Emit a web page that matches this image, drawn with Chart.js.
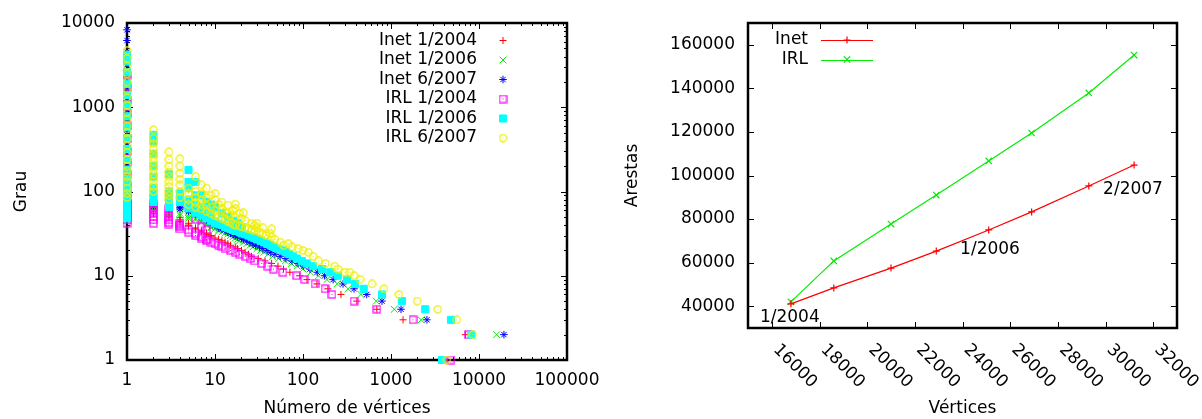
<!DOCTYPE html>
<html>
<head>
<meta charset="utf-8">
<script src="https://cdn.jsdelivr.net/npm/chart.js@4.4.1/dist/chart.umd.min.js"></script>
<style>
  html, body { margin: 0; padding: 0; background: #fff; }
  #wrap { position: relative; width: 1202px; height: 419px; }
  canvas { position: absolute; top: 0; }
  #grau { left: 0; }
  #arestas { left: 600px; }
</style>
</head>
<body>
<div id="wrap">
  <canvas id="grau" width="600" height="419"></canvas>
  <canvas id="arestas" width="602" height="419"></canvas>
</div>
<script>
// ---- painel esquerdo: [número de vértices, grau] ----
const inet2004 = [
  [1,60],[1,75],[1,90],[1,110],[1,140],[1,180],[1,230],[1,300],[1,400],[1,520],[1,700],[1,950],[1,1300],[1,1800],[1,2400],
  [2,55],[2,58],[2,62],[2,66],[2,72],[3,50],[3,53],[3,57],[4,44],[4,46],[4,49],[5,39],[5,40],[5,42],
  [6,36],[6,37],[7,33],[7,34],[8,31],[8,32],[9,29],[9,30],[10,28],
  [11,27],[12,26],[13,25],[14,24],[15,23],[17,22],[18,21],[20,20],[22,19],[24,18],[26,17],[31,16],[37,15],[44,14],
  [52,13],[60,12],[71,11],[92,10],[111,9],[144,8],[192,7],[270,6],[410,5],[690,4],[1370,3],[7000,2]
];
const inet2006 = [
  [1,65],[1,80],[1,100],[1,130],[1,170],[1,220],[1,290],[1,380],[1,500],[1,680],[1,900],[1,1200],[1,1700],[1,2300],[1,3200],
  [2,60],[2,64],[2,70],[3,55],[3,58],[3,62],[4,52],[4,55],[5,48],[5,50],[5,53],[6,46],[6,48],[7,43],[7,44],[8,40],[8,41],[9,37],[9,38],
  [10,36],[11,34],[11,35],[12,33],[13,32],[14,31],[15,30],[16,29],[17,28],[18,27],[19,26],[21,25],[23,24],[25,23],[27,22],
  [30,21],[33,20],[36,19],[40,18],[45,17],[53,16],[63,15],[74,14],[86,13],[100,12],[122,11],[150,10],[187,9],[245,8],
  [325,7],[455,6],[680,5],[1090,4],[2200,3],[15900,2]
];
const inet2007 = [
  [1,70],[1,90],[1,115],[1,150],[1,200],[1,260],[1,350],[1,470],[1,640],[1,870],[1,1200],[1,1650],[1,2300],[1,3200],[1,4500],[1,6200],[1,8300],
  [2,66],[2,72],[3,62],[3,66],[4,62],[4,65],[4,68],[5,58],[5,60],[5,63],[6,54],[6,56],[7,50],[7,52],[8,46],[8,48],[9,43],[9,44],
  [10,40],[10,41],[11,37],[12,36],[13,35],[14,33],[15,32],[16,31],[17,30],[18,29],[20,28],[21,27],[23,26],[25,25],[27,24],
  [29,23],[32,22],[35,21],[39,20],[43,19],[48,18],[55,17],[64,16],[75,15],[88,14],[102,13],[120,12],[145,11],[176,10],
  [220,9],[285,8],[380,7],[530,6],[790,5],[1300,4],[2560,3],[19200,2]
];
const irl2004 = [
  [1,42],[1,46],[1,50],[1,55],[1,60],[1,66],[1,72],[1,80],[1,95],[1,120],[1,160],[1,220],[1,300],[1,420],[1,600],[1,850],[1,1200],[1,1700],[1,2400],
  [2,42],[2,46],[2,50],[2,55],[2,60],[2,66],[2,72],[3,41],[3,43],[3,46],[3,50],[3,55],[3,62],
  [4,36],[4,38],[4,40],[4,42],[5,33],[5,35],[6,30],[6,32],[6,47],[7,28],[7,29],[7,38],[8,26],[8,27],[8,35],[9,25],
  [10,24],[11,23],[12,22],[13,21],[15,20],[17,19],[19,18],[22,17],[25,16],[28,15],[34,14],[40,13],[46,12],[59,11],
  [85,10],[105,9],[137,8],[178,7],[213,6],[380,5],[690,4],[1780,3],[7500,2],[4800,1]
];
const irl2006 = [
  [1,48],[1,55],[1,62],[1,70],[1,80],[1,95],[1,115],[1,140],[1,180],[1,240],[1,320],[1,430],[1,580],[1,780],[1,1050],[1,1400],[1,1900],[1,2600],[1,3500],[1,4200],
  [2,75],[2,85],[2,95],[2,110],[2,150],[2,200],[2,280],[2,390],[2,470],[3,65],[3,70],[3,75],[3,85],[3,100],[3,160],
  [4,75],[4,85],[4,95],[5,63],[5,70],[5,80],[5,110],[5,130],[5,180],[6,56],[6,60],[6,70],[6,90],[6,130],
  [7,52],[7,55],[7,65],[7,90],[8,48],[8,50],[8,60],[8,75],[9,45],[9,47],[9,55],[9,70],[10,42],[10,44],[10,65],
  [11,41],[12,40],[12,55],[13,38],[14,37],[14,50],[15,36],[15,38],[16,35],[16,45],[17,34],[18,42],[19,33],[20,32],[20,38],
  [22,31],[24,30],[26,29],[28,28],[30,27],[33,26],[36,25],[39,24],[43,23],[47,22],[52,21],[59,20],[64,19],[70,18],
  [77,17],[85,16],[97,15],[110,14],[130,13],[165,12],[204,11],[250,10],[316,9],[390,8],[490,7],[790,6],[1330,5],
  [2450,4],[4800,3],[8200,2],[3800,1]
];
const irl2007 = [
  [1,85],[1,95],[1,110],[1,130],[1,150],[1,175],[1,200],[1,240],[1,290],[1,350],[1,420],[1,500],[1,600],[1,720],[1,870],[1,1050],[1,1300],[1,1600],[1,2000],[1,2500],[1,3100],[1,3800],[1,4700],
  [2,100],[2,115],[2,130],[2,145],[2,160],[2,180],[2,200],[2,225],[2,250],[2,280],[2,320],[2,370],[2,430],[2,540],
  [3,80],[3,90],[3,100],[3,115],[3,130],[3,150],[3,170],[3,200],[3,240],[3,295],
  [4,85],[4,100],[4,120],[4,140],[4,165],[4,200],[4,245],[5,70],[5,80],[5,95],[5,110],
  [6,65],[6,75],[6,85],[6,100],[6,150],[7,62],[7,70],[7,80],[7,95],[7,120],[8,58],[8,68],[8,85],[8,110],
  [9,55],[9,65],[9,90],[10,52],[10,60],[10,80],[10,95],
  [11,50],[11,70],[12,48],[12,62],[12,75],[13,46],[13,58],[14,44],[14,55],[14,69],[15,43],[15,52],[16,41],[16,60],
  [17,40],[17,50],[17,63],[17,71],[19,39],[19,55],[20,38],[20,48],[21,56],[22,37],[22,45],[24,36],[26,35],[26,42],
  [28,34],[28,40],[30,37],[30,42],[32,33],[35,32],[35,37],[38,30],[42,32],[44,29],[44,36],[48,27],[55,25],[60,23],
  [68,24],[75,22],[88,21],[100,20],[115,19],[130,17],[150,15],[180,14],[230,13],[250,12],[300,11],[340,11],[380,10],
  [445,9],[610,8],[830,7],[1230,6],[1980,5],[3400,4],[5600,3],[8500,2],[4300,1]
];
const seriesLabels = ['Inet 1/2004', 'Inet 1/2006', 'Inet 6/2007', 'IRL 1/2004', 'IRL 1/2006', 'IRL 6/2007'];
const verticesTicks = [1, 10, 100, 1000, 10000, 100000];
const grauTicks = [1, 10, 100, 1000, 10000];

// ---- painel direito: arestas x vértices ----
const vertices = [16800, 18600, 21000, 22900, 25100, 26900, 29300, 31200];
const arestasInet = [41100, 48400, 57500, 65300, 75000, 83300, 95200, 104800];
const arestasIRL = [42000, 60800, 77700, 91000, 106700, 119500, 137900, 155300];
const snapshotLabels = [
  { text: '1/2004', x: 15500, y: 35000 },
  { text: '1/2006', x: 23900, y: 65800 },
  { text: '2/2007', x: 29900, y: 93600 }
];
const vertTicks = [16000, 18000, 20000, 22000, 24000, 26000, 28000, 30000, 32000];
const arestasTicks = [40000, 60000, 80000, 100000, 120000, 140000, 160000];

const FONT = { family: 'DejaVu Sans', size: 17 };
Chart.defaults.font.family = FONT.family;
Chart.defaults.font.size = FONT.size;
Chart.defaults.color = '#000';

// gnuplot style open markers with a center dot
function openMarker(color, shape) {
  const c = document.createElement('canvas');
  c.width = 9; c.height = 9;
  const g = c.getContext('2d');
  g.strokeStyle = color; g.fillStyle = color; g.lineWidth = 1.2;
  if (shape === 'square') {
    g.strokeRect(1, 1, 7, 7);
  } else {
    g.beginPath(); g.arc(4.5, 4.5, 3.6, 0, Math.PI * 2); g.stroke();
  }
  g.fillRect(4, 4, 1, 1);
  return c;
}

const styles = [
  { color: '#ff0000', pointStyle: 'cross', radius: 3.5 },
  { color: '#00ee00', pointStyle: 'crossRot', radius: 4.8 },
  { color: '#0000ff', pointStyle: 'star', radius: 3.8 },
  { color: '#ff00ff', pointStyle: openMarker('#ff00ff', 'square'), radius: 4 },
  { color: '#00ffff', pointStyle: 'rect', radius: 5 },
  { color: '#ffff00', pointStyle: openMarker('#eeee00', 'circle'), radius: 4 }
];
const grauData = [inet2004, inet2006, inet2007, irl2004, irl2006, irl2007];

function powerOfTen(v) {
  const e = Math.log10(v);
  return Math.abs(e - Math.round(e)) < 1e-9;
}
function logTicks(majors) {
  const out = [];
  majors.forEach((m, i) => {
    out.push({ value: m });
    if (i < majors.length - 1) for (let k = 2; k <= 9; k++) out.push({ value: m * k });
  });
  return out;
}
// keep the plot box where it is, whatever the labels want
function noPad(s) {
  s.paddingLeft = 0; s.paddingRight = 0; s.paddingTop = 0; s.paddingBottom = 0;
}

// frame + inward ticks on all four sides, like gnuplot
const frame = {
  id: 'frame',
  beforeDatasetsDraw(chart) {
    const { ctx, chartArea: a } = chart;
    ctx.save();
    ctx.strokeStyle = '#000';
    ctx.lineWidth = 1;
    ['x', 'y'].forEach(id => {
      const s = chart.scales[id];
      s.ticks.forEach(t => {
        const len = powerOfTen(t.value) || s.type === 'linear' ? 6 : 3;
        const p = Math.round(s.getPixelForValue(t.value)) + 0.5;
        ctx.beginPath();
        if (id === 'x') {
          ctx.moveTo(p, a.bottom); ctx.lineTo(p, a.bottom - len);
          ctx.moveTo(p, a.top); ctx.lineTo(p, a.top + len);
        } else {
          ctx.moveTo(a.left, p); ctx.lineTo(a.left + len, p);
          ctx.moveTo(a.right, p); ctx.lineTo(a.right - len, p);
        }
        ctx.stroke();
      });
    });
    ctx.lineWidth = 2.5;
    ctx.strokeRect(a.left, a.top, a.right - a.left, a.bottom - a.top);
    ctx.restore();
  }
};

const grauLegend = {
  id: 'grauLegend',
  afterDraw(chart) {
    const ctx = chart.ctx;
    ctx.save();
    ctx.font = FONT.size + 'px "' + FONT.family + '"';
    ctx.textAlign = 'right';
    ctx.textBaseline = 'middle';
    seriesLabels.forEach((lab, i) => {
      const y = 40.5 + i * 19.5;
      ctx.fillStyle = '#000';
      ctx.fillText(lab, 477, y);
      const st = styles[i];
      ctx.strokeStyle = st.color; ctx.fillStyle = st.color; ctx.lineWidth = 1;
      Chart.helpers.drawPoint(ctx, { pointStyle: st.pointStyle, radius: st.radius, rotation: 0, borderWidth: 1 }, 503, y);
    });
    ctx.restore();
  }
};

new Chart(document.getElementById('grau'), {
  type: 'scatter',
  data: {
    datasets: grauData.map((pts, i) => ({
      label: seriesLabels[i],
      data: pts.map(p => ({ x: p[0], y: p[1] })),
      pointStyle: styles[i].pointStyle,
      pointRadius: styles[i].radius,
      borderColor: styles[i].color,
      backgroundColor: styles[i].color,
      pointBorderWidth: 1,
      order: 6 - i,
      clip: false
    }))
  },
  options: {
    responsive: false,
    animation: false,
    events: [],
    layout: { padding: { left: 0, top: 23, right: 33, bottom: 0 } },
    plugins: { legend: { display: false }, tooltip: { enabled: false } },
    scales: {
      x: {
        type: 'logarithmic', min: 1, max: 100000,
        grid: { display: false, drawTicks: false },
        border: { display: false },
        afterBuildTicks: s => { s.ticks = logTicks(verticesTicks); },
        afterFit: s => { s.height = 59; noPad(s); },
        ticks: { autoSkip: false, maxRotation: 0, minRotation: 0, padding: 10,
          callback: v => verticesTicks.includes(v) ? String(v) : '' },
        title: { display: true, text: 'Número de vértices', padding: 0 }
      },
      y: {
        type: 'logarithmic', min: 1, max: 10000,
        grid: { display: false, drawTicks: false },
        border: { display: false },
        afterBuildTicks: s => { s.ticks = logTicks(grauTicks); },
        afterFit: s => { s.width = 127; noPad(s); },
        ticks: { autoSkip: false, padding: 12,
          callback: v => grauTicks.includes(v) ? String(v) : '' },
        title: { display: true, text: 'Grau', padding: { top: 11, bottom: 0 } }
      }
    }
  },
  plugins: [frame, grauLegend]
});

const arestasExtras = {
  id: 'arestasExtras',
  afterDraw(chart) {
    const { ctx, chartArea: a } = chart;
    const sx = chart.scales.x, sy = chart.scales.y;
    ctx.save();
    ctx.font = FONT.size + 'px "' + FONT.family + '"';
    ctx.fillStyle = '#000';
    // rotated x tick labels (clockwise, starting at the tick)
    ctx.textAlign = 'left';
    ctx.textBaseline = 'middle';
    vertTicks.forEach(v => {
      ctx.save();
      ctx.translate(sx.getPixelForValue(v) + 4, a.bottom + 19);
      ctx.rotate(Math.PI / 4);
      ctx.fillText(String(v), 0, 0);
      ctx.restore();
    });
    // snapshot labels
    snapshotLabels.forEach(l => {
      ctx.fillText(l.text, sx.getPixelForValue(l.x), sy.getPixelForValue(l.y));
    });
    // legend
    const items = [['Inet', 0], ['IRL', 1]];
    items.forEach(([lab, i]) => {
      const ds = chart.data.datasets[i];
      const y = 40 + i * 19.5;
      ctx.fillStyle = '#000';
      ctx.textAlign = 'right';
      ctx.fillText(lab, 208, y);
      ctx.strokeStyle = ds.borderColor;
      ctx.fillStyle = ds.borderColor;
      ctx.lineWidth = 1.2;
      ctx.beginPath(); ctx.moveTo(221, Math.round(y) + 0.5); ctx.lineTo(273, Math.round(y) + 0.5); ctx.stroke();
      Chart.helpers.drawPoint(ctx, { pointStyle: ds.pointStyle, radius: ds.pointRadius, rotation: 0, borderWidth: 1.2 }, 247, y);
    });
    ctx.restore();
  }
};

new Chart(document.getElementById('arestas'), {
  type: 'scatter',
  data: {
    datasets: [
      { label: 'Inet', data: vertices.map((v, i) => ({ x: v, y: arestasInet[i] })),
        showLine: true, borderColor: '#ff0000', backgroundColor: '#ff0000', borderWidth: 1.2,
        pointStyle: 'cross', pointRadius: 3.5, pointBorderWidth: 1.2, clip: false },
      { label: 'IRL', data: vertices.map((v, i) => ({ x: v, y: arestasIRL[i] })),
        showLine: true, borderColor: '#00ee00', backgroundColor: '#00ee00', borderWidth: 1.2,
        pointStyle: 'crossRot', pointRadius: 4.5, pointBorderWidth: 1.2, clip: false }
    ]
  },
  options: {
    responsive: false,
    animation: false,
    events: [],
    layout: { padding: { left: 0, top: 23, right: 25, bottom: 0 } },
    plugins: { legend: { display: false }, tooltip: { enabled: false } },
    scales: {
      x: {
        type: 'linear', min: 15000, max: 33000,
        grid: { display: false, drawTicks: false },
        border: { display: false },
        afterBuildTicks: s => { s.ticks = vertTicks.map(v => ({ value: v })); },
        afterFit: s => { s.height = 91; noPad(s); },
        ticks: { display: false },
        title: { display: true, text: 'Vértices', padding: 0 }
      },
      y: {
        type: 'linear', min: 30000, max: 170000,
        grid: { display: false, drawTicks: false },
        border: { display: false },
        afterBuildTicks: s => { s.ticks = arestasTicks.map(v => ({ value: v })); },
        afterFit: s => { s.width = 148; noPad(s); },
        ticks: { padding: 13, callback: v => String(v) },
        title: { display: true, text: 'Arestas', padding: { top: 22, bottom: 0 } }
      }
    }
  },
  plugins: [frame, arestasExtras]
});
</script>
</body>
</html>
